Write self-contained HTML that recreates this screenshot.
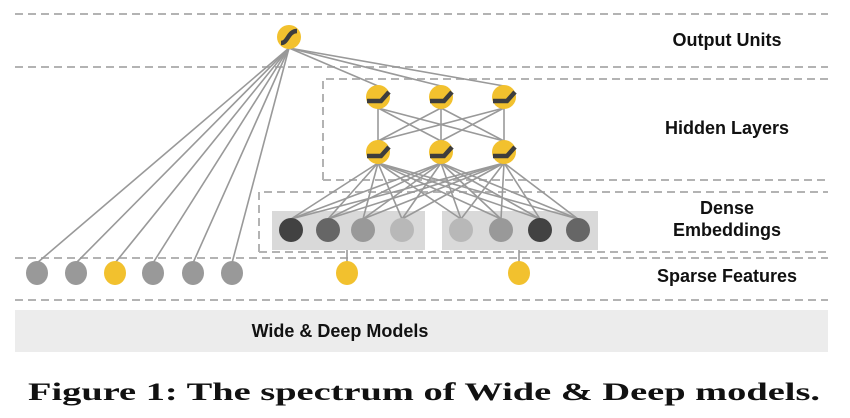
<!DOCTYPE html>
<html><head><meta charset="utf-8"><style>
html,body{margin:0;padding:0;background:#fff;}
svg{display:block;}
</style></head><body>
<svg width="850" height="418" viewBox="0 0 850 418" xmlns="http://www.w3.org/2000/svg">
<g stroke="#b3b3b3" stroke-width="2" stroke-dasharray="8,5" fill="none">
<line x1="15" y1="14" x2="828" y2="14"/>
<line x1="15" y1="67" x2="828" y2="67"/>
<polyline points="323,180 323,79 828,79"/>
<line x1="323" y1="180" x2="828" y2="180"/>
<polyline points="259,252 259,192 828,192"/>
<line x1="259" y1="252" x2="828" y2="252"/>
<line x1="15" y1="258" x2="828" y2="258"/>
<line x1="15" y1="300" x2="828" y2="300"/>
</g>
<rect x="15" y="310" width="813" height="42" fill="#ececec"/>
<rect x="272" y="211" width="153" height="39" fill="#d9d9d9"/>
<rect x="442" y="211" width="156" height="39" fill="#d9d9d9"/>
<g stroke="#999" stroke-width="1.6">
<!-- output to sparse -->
<line x1="289" y1="48" x2="37" y2="263"/>
<line x1="289" y1="48" x2="76" y2="263"/>
<line x1="289" y1="48" x2="115" y2="263"/>
<line x1="289" y1="48" x2="153" y2="263"/>
<line x1="289" y1="48" x2="193" y2="263"/>
<line x1="289" y1="48" x2="232" y2="263"/>
<!-- output to hidden -->
<line x1="289" y1="48" x2="378" y2="86"/>
<line x1="289" y1="48" x2="441" y2="86"/>
<line x1="289" y1="48" x2="504" y2="86"/>
<!-- hidden top to bottom -->
<line x1="378" y1="108" x2="378" y2="141"/><line x1="378" y1="108" x2="441" y2="141"/><line x1="378" y1="108" x2="504" y2="141"/>
<line x1="441" y1="108" x2="378" y2="141"/><line x1="441" y1="108" x2="441" y2="141"/><line x1="441" y1="108" x2="504" y2="141"/>
<line x1="504" y1="108" x2="378" y2="141"/><line x1="504" y1="108" x2="441" y2="141"/><line x1="504" y1="108" x2="504" y2="141"/>
<!-- hidden bottom to dense -->
<g id="fan1">
<line x1="378" y1="163" x2="291" y2="219"/><line x1="378" y1="163" x2="328" y2="219"/><line x1="378" y1="163" x2="363" y2="219"/><line x1="378" y1="163" x2="402" y2="219"/>
<line x1="378" y1="163" x2="461" y2="219"/><line x1="378" y1="163" x2="501" y2="219"/><line x1="378" y1="163" x2="540" y2="219"/><line x1="378" y1="163" x2="578" y2="219"/>
</g>
<line x1="441" y1="163" x2="291" y2="219"/><line x1="441" y1="163" x2="328" y2="219"/><line x1="441" y1="163" x2="363" y2="219"/><line x1="441" y1="163" x2="402" y2="219"/>
<line x1="441" y1="163" x2="461" y2="219"/><line x1="441" y1="163" x2="501" y2="219"/><line x1="441" y1="163" x2="540" y2="219"/><line x1="441" y1="163" x2="578" y2="219"/>
<line x1="504" y1="163" x2="291" y2="219"/><line x1="504" y1="163" x2="328" y2="219"/><line x1="504" y1="163" x2="363" y2="219"/><line x1="504" y1="163" x2="402" y2="219"/>
<line x1="504" y1="163" x2="461" y2="219"/><line x1="504" y1="163" x2="501" y2="219"/><line x1="504" y1="163" x2="540" y2="219"/><line x1="504" y1="163" x2="578" y2="219"/>
<line x1="347" y1="250" x2="347" y2="263"/>
<line x1="519" y1="250" x2="519" y2="263"/>
</g>
<!-- sparse -->
<g>
<ellipse cx="37" cy="273" rx="11" ry="12" fill="#999"/>
<ellipse cx="76" cy="273" rx="11" ry="12" fill="#999"/>
<ellipse cx="115" cy="273" rx="11" ry="12" fill="#f2c12e"/>
<ellipse cx="153" cy="273" rx="11" ry="12" fill="#999"/>
<ellipse cx="193" cy="273" rx="11" ry="12" fill="#999"/>
<ellipse cx="232" cy="273" rx="11" ry="12" fill="#999"/>
<ellipse cx="347" cy="273" rx="11" ry="12" fill="#f2c12e"/>
<ellipse cx="519" cy="273" rx="11" ry="12" fill="#f2c12e"/>
</g>
<!-- dense -->
<g>
<ellipse cx="291" cy="230" rx="12" ry="12" fill="#424242"/>
<ellipse cx="328" cy="230" rx="12" ry="12" fill="#666"/>
<ellipse cx="363" cy="230" rx="12" ry="12" fill="#999"/>
<ellipse cx="402" cy="230" rx="12" ry="12" fill="#b8b8b8"/>
<ellipse cx="461" cy="230" rx="12" ry="12" fill="#b8b8b8"/>
<ellipse cx="501" cy="230" rx="12" ry="12" fill="#999"/>
<ellipse cx="540" cy="230" rx="12" ry="12" fill="#424242"/>
<ellipse cx="578" cy="230" rx="12" ry="12" fill="#666"/>
</g>
<!-- output unit -->
<circle cx="289" cy="37" r="12" fill="#f2c12e"/>
<path d="M281,43 C288,43 288,31 297,31" stroke="#3d3d3d" stroke-width="4.5" fill="none"/>
<!-- hidden units -->
<g fill="#f2c12e">
<circle cx="378" cy="97" r="12"/><circle cx="441" cy="97" r="12"/><circle cx="504" cy="97" r="12"/>
<circle cx="378" cy="152" r="12"/><circle cx="441" cy="152" r="12"/><circle cx="504" cy="152" r="12"/>
</g>
<g stroke="#3d3d3d" stroke-width="4.5" fill="none">
<polyline points="367,101 381,101 389,92"/><polyline points="430,101 444,101 452,92"/><polyline points="493,101 507,101 515,92"/>
<polyline points="367,156 381,156 389,147"/><polyline points="430,156 444,156 452,147"/><polyline points="493,156 507,156 515,147"/>
</g>
<g font-family="Liberation Sans, Arial, sans-serif" font-weight="bold" font-size="18" fill="#111" text-anchor="middle">
<text x="727" y="46">Output Units</text>
<text x="727" y="134">Hidden Layers</text>
<text x="727" y="214">Dense</text>
<text x="727" y="236">Embeddings</text>
<text x="727" y="282">Sparse Features</text>
<text x="340" y="337">Wide &amp; Deep Models</text>
</g>
<text x="28" y="400" font-family="Liberation Serif, Times New Roman, serif" font-weight="bold" font-size="25" fill="#111" textLength="792" lengthAdjust="spacingAndGlyphs">Figure 1: The spectrum of Wide &amp; Deep models.</text>
</svg>
</body></html>
